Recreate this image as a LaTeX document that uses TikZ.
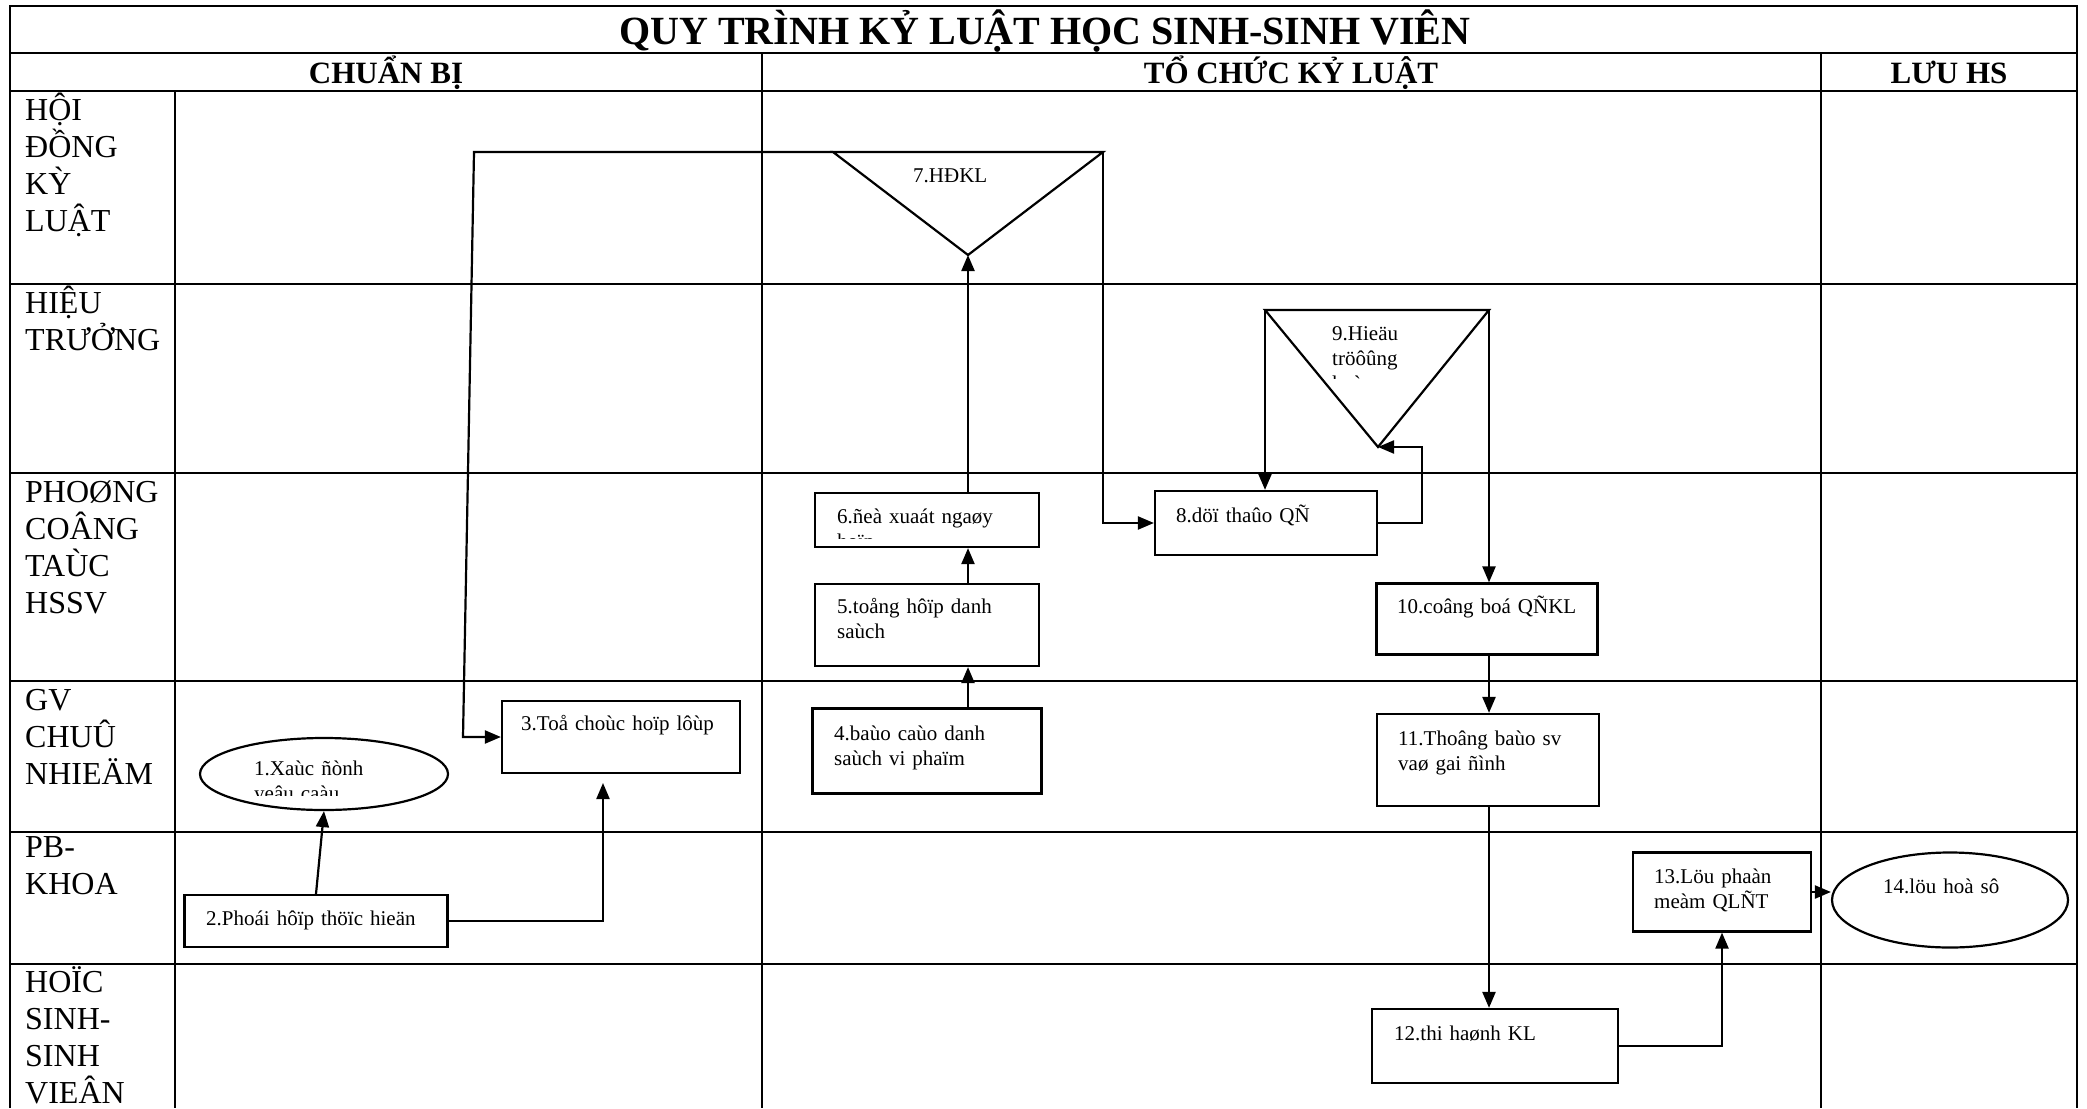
\documentclass[tikz,border=0pt]{standalone}
\usepackage{fontspec}
\setmainfont{Liberation Serif}
\usetikzlibrary{arrows.meta,shapes.geometric}

\begin{document}
\begin{tikzpicture}[x=1pt,y=-1pt,
	tabline/.style={line width=2.5pt},
	box/.style={draw,line width=2.2pt,inner sep=0pt},
	oval/.style={draw,ellipse,line width=2.2pt,inner sep=0pt},
	txt/.style={anchor=base west,inner sep=0pt,text width=260pt,align=left,font=\fontsize{21}{25}\selectfont},
	lane/.style={anchor=base west,inner sep=0pt,text width=150pt,align=left,font=\fontsize{32}{37}\selectfont},
	head/.style={anchor=base,inner sep=0pt,font=\bfseries\fontsize{31}{37}\selectfont},
	link/.style={line width=2.2pt},
	arr/.style={line width=2.2pt,-{Triangle[length=16pt,width=13pt]}}]
	\useasboundingbox (0,0) rectangle (2087,1108);
	
	% tabella
	\draw[tabline] (10,1108) -- (10,6) -- (2077,6) -- (2077,1108);
	\foreach \y in {53,91,284,473,681,832,964}
		\draw[tabline] (10,\y) -- (2077,\y);
	\draw[tabline] (175,91) -- (175,1108);
	\draw[tabline] (762,53) -- (762,1108);
	\draw[tabline] (1821,53) -- (1821,1108);
	
	% intestazione
	\node[head, font=\bfseries\fontsize{40}{46}\selectfont] (titolo) at (1045,45) {QUY TRÌNH KỶ LUẬT HỌC SINH-SINH VIÊN};
	\node[head] (h1) at (386,83) {CHUẨN BỊ};
	\node[head] (h2) at (1291,83) {TỔ CHỨC KỶ LUẬT};
	\node[head] (h3) at (1949,83) {LƯU HS};
	
	% corsie
	\node[lane] (l1) at (25,120) {HỘI\\ĐỒNG\\KỲ\\LUẬT};
	\node[lane] (l2) at (25,313) {HIỆU\\TRƯỞNG};
	\node[lane] (l3) at (25,502) {PHOØNG\\COÂNG\\TAÙC\\HSSV};
	\node[lane] (l4) at (25,710) {GV\\CHUÛ\\NHIEÄM};
	\node[lane] (l5) at (25,857) {PB-\\KHOA};
	\node[lane] (l6) at (25,992) {HOÏC\\SINH-\\SINH\\VIEÂN};
	
	% blocchi
	\node[oval, minimum width=248pt, minimum height=72pt] (e1) at (324,774) {};
	\node[box, minimum width=263pt, minimum height=52pt] (b2) at (316,921) {};
	\node[box, minimum width=238pt, minimum height=72pt] (b3) at (621,737) {};
	\node[box, minimum width=229pt, minimum height=85pt] (b4) at (927,751) {};
	\node[box, minimum width=224pt, minimum height=82pt] (b5) at (927,625) {};
	\node[box, minimum width=224pt, minimum height=54pt] (b6) at (927,520) {};
	\node[box, minimum width=222pt, minimum height=64pt] (b8) at (1266,523) {};
	\node[box, minimum width=221pt, minimum height=71pt] (b10) at (1487,619) {};
	\node[box, minimum width=222pt, minimum height=92pt] (b11) at (1488,760) {};
	\node[box, minimum width=246pt, minimum height=74pt] (b12) at (1495,1046) {};
	\node[box, minimum width=178pt, minimum height=79pt] (b13) at (1722,892) {};
	\node[oval, minimum width=236pt, minimum height=95pt] (e14) at (1950,900) {};
	
	% triangoli
	\coordinate (t7l) at (833,152);
	\coordinate (t7r) at (1103,152);
	\coordinate (t7b) at (968,255);
	\coordinate (t9l) at (1265,310);
	\coordinate (t9r) at (1489,310);
	\coordinate (t9b) at (1378,447);
	\draw[link] (t7l) -- (t7r) -- (t7b) -- cycle;
	\draw[link] (t9l) -- (t9r) -- (t9b) -- cycle;
	
	% testi
	\begin{scope}
		\clip (200,740) rectangle (448,795);
		\node[txt] (t1) at (254,775) {1.Xaùc ñònh\\yeâu caàu};
	\end{scope}
	\node[txt] (t2) at (206,925) {2.Phoái hôïp thöïc hieän};
	\node[txt] (t3) at (521,730) {3.Toå choùc hoïp lôùp};
	\node[txt] (t4) at (834,740) {4.baùo caùo danh\\saùch vi phaïm};
	\node[txt] (t5) at (837,613) {5.toång hôïp danh\\saùch};
	\begin{scope}
		\clip (815,493) rectangle (1039,538);
		\node[txt] (t6) at (837,523) {6.ñeà xuaát ngaøy\\hoïp};
	\end{scope}
	\node[txt] (t7) at (913,182) {7.HĐKL};
	\node[txt] (t8) at (1176,522) {8.döï thaûo QÑ};
	\begin{scope}
		\clip (1300,315) rectangle (1480,378);
		\node[txt] (t9) at (1332,340) {9.Hieäu\\tröôûng\\kyù};
	\end{scope}
	\node[txt] (t10) at (1397,613) {10.coâng boá QÑKL};
	\node[txt] (t11) at (1398,745) {11.Thoâng baùo sv\\vaø gai ñình};
	\node[txt] (t12) at (1394,1040) {12.thi haønh KL};
	\node[txt] (t13) at (1654,883) {13.Löu phaàn\\meàm QLÑT};
	\node[txt] (t14) at (1883,893) {14.löu hoà sô};
	
	% frecce
	\coordinate (k1) at (474,152);
	\coordinate (k2) at (463,737);
	\coordinate (b3in) at (603,783);
	\draw[arr] (b2.north) -- (e1.south);
	\draw[arr] (b2.east) -| (b3in);
	\draw[arr] (t7l) -- (k1) -- (k2) -- (b3.west);
	\draw[arr] (b4.north -| t7b) -- (b5.south -| t7b);
	\draw[arr] (b5.north -| t7b) -- (b6.south -| t7b);
	\draw[arr] (b6.north -| t7b) -- (t7b);
	\draw[arr] (t7r) -- (t7r |- b8.west) -- (b8.west);
	\draw[arr] (b8.east) -- ++(44,0) |- (t9b);
	\draw[arr] (t9l) -- (t9l |- b8.north);
	\draw[arr] (t9r) -- (t9r |- b10.north);
	\draw[arr] (b10.south -| t9r) -- (b11.north -| t9r);
	\draw[arr] (b11.south -| t9r) -- (b12.north -| t9r);
	\draw[arr] (b12.east) -| (b13.south);
	\draw[arr] (b13.east) -- (b13.east -| e14.west);
\end{tikzpicture}
\end{document}
